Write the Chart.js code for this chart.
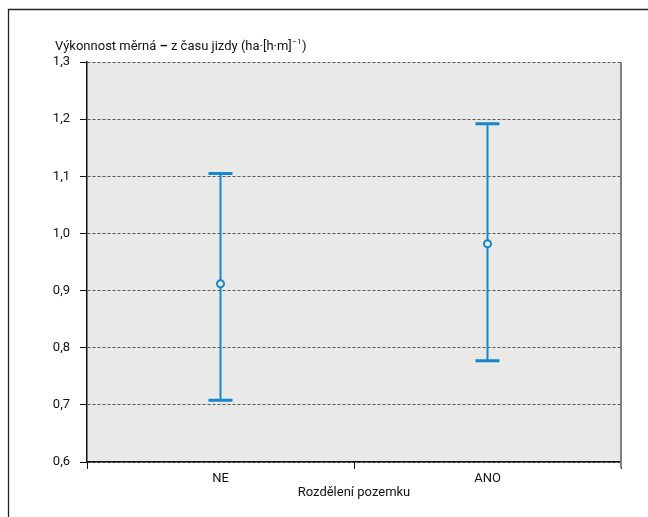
<!DOCTYPE html>
<html>
<head>
<meta charset="utf-8">
<script src="https://cdn.jsdelivr.net/npm/chart.js@4"></script>
<style>
html,body{margin:0;padding:0;background:#fff;}
#wrap{width:648px;height:517px;position:relative;}
</style>
</head>
<body>
<div id="wrap"><canvas id="c" width="648" height="517"></canvas></div>
<script>
const categories = ['NE', 'ANO'];
const means = [0.912, 0.982];
const lows = [0.708, 0.777];
const highs = [1.105, 1.192];
const yTicks = [0.6, 0.7, 0.8, 0.9, 1.0, 1.1, 1.2, 1.3];

const FONT = 'Roboto, "Liberation Sans", sans-serif';
const BLUE = '#1787cc';
const BG = '#e9e9e8';

const decor = {
  id: 'decor',
  beforeDraw(chart) {
    const {ctx, chartArea: a} = chart;
    ctx.save();
    ctx.fillStyle = BG;
    ctx.fillRect(a.left, a.top, a.right - a.left, a.bottom - a.top);
    ctx.strokeStyle = '#222';
    ctx.lineWidth = 1.3;
    ctx.beginPath();
    ctx.moveTo(648, 9.5);
    ctx.lineTo(8.5, 9.5);
    ctx.lineTo(8.5, 517);
    ctx.stroke();
    ctx.restore();
  },
  afterDraw(chart) {
    const {ctx, chartArea: a} = chart;
    ctx.save();
    ctx.strokeStyle = '#808080';
    ctx.lineWidth = 2;
    ctx.beginPath();
    ctx.moveTo(a.right, a.top);
    ctx.lineTo(a.right, a.bottom + 6);
    ctx.stroke();
    ctx.fillStyle = '#111';
    ctx.textBaseline = 'alphabetic';
    let x = 55, y = 50;
    const seg = (t, f) => { ctx.font = f; ctx.fillText(t, x, y); x += ctx.measureText(t).width; };
    seg('Výkonnost měrná ', '13px ' + FONT);
    seg('–', 'bold 13px ' + FONT);
    seg(' z času jizdy (ha·[h·m]', '13px ' + FONT);
    ctx.font = '8px ' + FONT;
    ctx.fillText('−1', x + 0.5, y - 6);
    x += ctx.measureText('−1').width + 1;
    seg(')', '13px ' + FONT);
    ctx.restore();
  }
};

const errorBars = {
  id: 'errorBars',
  beforeDatasetsDraw(chart) {
    const {ctx, scales: {x, y}} = chart;
    ctx.save();
    ctx.strokeStyle = BLUE;
    categories.forEach((c, i) => {
      const px = x.getPixelForValue(i);
      const yh = y.getPixelForValue(highs[i]);
      const yl = y.getPixelForValue(lows[i]);
      ctx.lineWidth = 2;
      ctx.beginPath();
      ctx.moveTo(px, yh);
      ctx.lineTo(px, yl);
      ctx.stroke();
      ctx.lineWidth = 3;
      ctx.beginPath();
      ctx.moveTo(px - 12, yh);
      ctx.lineTo(px + 12, yh);
      ctx.moveTo(px - 12, yl);
      ctx.lineTo(px + 12, yl);
      ctx.stroke();
    });
    ctx.restore();
  }
};

new Chart(document.getElementById('c'), {
  type: 'line',
  data: {
    labels: categories,
    datasets: [{
      data: means,
      showLine: false,
      pointStyle: 'circle',
      pointRadius: 3.5,
      pointHoverRadius: 3.5,
      pointBorderWidth: 2,
      pointBorderColor: BLUE,
      pointBackgroundColor: BG
    }]
  },
  options: {
    responsive: false,
    animation: false,
    events: [],
    layout: {autoPadding: false, padding: {left: 0, right: 27, top: 62, bottom: 16}},
    plugins: {legend: {display: false}, tooltip: {enabled: false}, title: {display: false}},
    scales: {
      x: {
        type: 'category',
        offset: true,
        grid: {display: true, drawOnChartArea: false, offset: true, drawTicks: true, tickLength: 7, tickColor: '#111', tickWidth: 1},
        border: {display: true, color: '#111', width: 1.5},
        ticks: {color: '#111', font: {family: FONT, size: 13}, padding: 2, maxRotation: 0},
        title: {display: true, text: 'Rozdělení pozemku', color: '#111', font: {family: FONT, size: 13}, padding: {top: 0, bottom: 0}},
        afterFit(s) { s.height = 39; }
      },
      y: {
        type: 'linear',
        min: 0.6,
        max: 1.3,
        afterBuildTicks(s) { s.ticks = yTicks.map(v => ({value: v})); },
        grid: {color: '#555', lineWidth: 1, drawTicks: true, tickLength: 7, tickColor: '#111', tickWidth: 1, tickBorderDash: []},
        border: {display: true, color: '#111', width: 1.5, dash: [3, 2]},
        ticks: {color: '#111', font: {family: FONT, size: 13}, padding: 10,
          callback: v => Number(v).toFixed(1).replace('.', ',')},
        afterFit(s) { s.width = 87; }
      }
    }
  },
  plugins: [decor, errorBars]
});
</script>
</body>
</html>
